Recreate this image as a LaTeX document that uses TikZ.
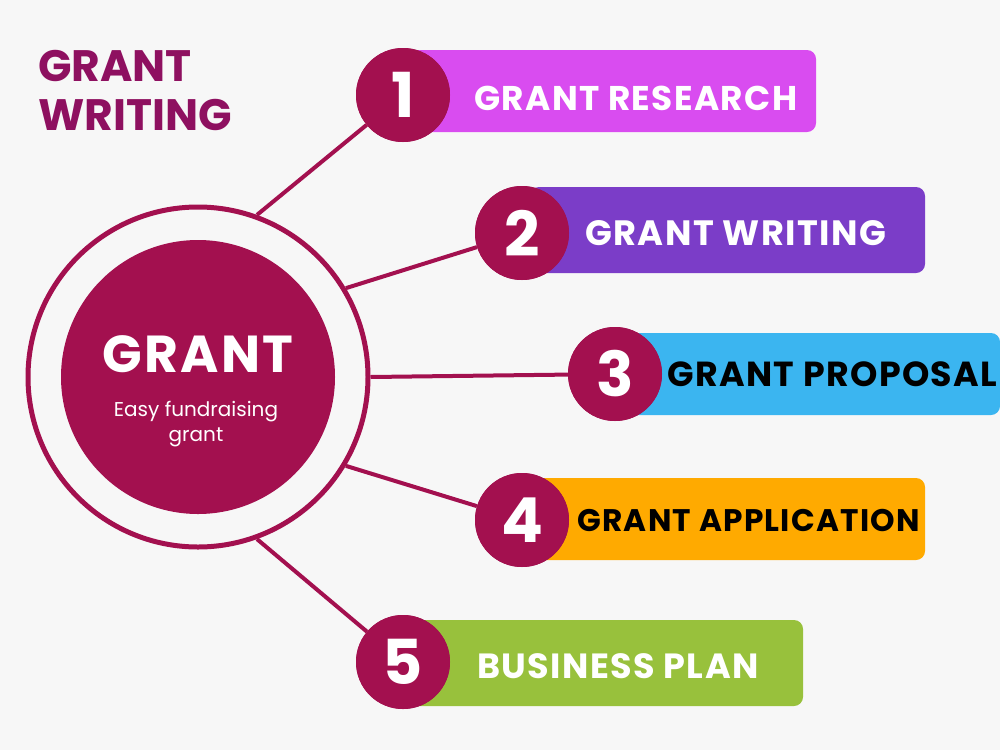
\documentclass[tikz,border=0pt]{standalone}
\usepackage{fontspec}
\setmainfont{Poppins}
\definecolor{bg}{HTML}{F7F7F7}
\definecolor{wine}{HTML}{A3104F}
\definecolor{title}{HTML}{8E1060}
\definecolor{c1}{HTML}{D94CF0}
\definecolor{c2}{HTML}{7B3DC8}
\definecolor{c3}{HTML}{3BB5F0}
\definecolor{c4}{HTML}{FFAA00}
\definecolor{c5}{HTML}{98C13C}
\newfontfamily\wide[LetterSpace=4]{Poppins}
\tikzset{
 bar/.style={rounded corners=9pt, inner sep=0pt},
 num/.style={circle, fill=wine, minimum size=94pt, inner sep=0pt, text=white, font=\fontsize{62}{62}\selectfont\bfseries},
 lab/.style={anchor=west, inner sep=0pt},
 conn/.style={wine, line width=4pt}
}
\newcommand\labfont[1]{\wide\fontsize{#1}{#1}\selectfont\bfseries}
\begin{document}
\begin{tikzpicture}[x=1pt,y=-1pt]
\fill[bg] (0,0) rectangle (1000,750);
\node[anchor=north west, align=left, text=title, inner sep=0pt, font=\fontsize{44}{49}\selectfont\bfseries] (t) at (38,50) {GRANT\\WRITING};
% bars
\fill[c1, bar] (410,50) rectangle (816,132);
\fill[c2, bar] (530,187) rectangle (925,273);
\fill[c3, bar] (620,333) rectangle (1000,415);
\fill[c4, bar] (530,478) rectangle (925,560);
\fill[c5, bar] (380,620) rectangle (803,706);
% ring
\node[circle, draw=wine, line width=5pt, minimum size=340pt, inner sep=0pt] (ring) at (198,377) {};
\node[circle, fill=wine, minimum size=274pt, inner sep=0pt] (core) at (198,377) {};
\node[text=white, font=\wide\fontsize{52}{52}\selectfont\bfseries] (g) at (198,354) {GRANT};
\node[text=white, align=center, font=\fontsize{20}{25}\selectfont] (e) at (196,424) {Easy fundraising\\grant};
% numbers
\node[num] (n1) at (403,95) {1};
\node[num] (n2) at (522,233) {2};
\node[num] (n3) at (615,374) {3};
\node[num] (n4) at (522,520) {4};
\node[num] (n5) at (403,662) {5};
% connectors
\draw[conn] (ring.70) -- (n1);
\draw[conn] (ring.31) -- (n2);
\draw[conn] (ring.0) -- (n3);
\draw[conn] (ring.-31) -- (n4);
\draw[conn] (ring.-70) -- (n5);
\foreach \i in {1,...,5} {\node[num] at (n\i) {\i};}
% labels
\node[lab, text=white, font=\labfont{34.3}] (l1) at (474,98) {GRANT RESEARCH};
\node[lab, text=white, font=\labfont{35.2}] (l2) at (585,233) {GRANT WRITING};
\node[lab, text=black, font=\labfont{34.8}] (l3) at (667,374) {GRANT PROPOSAL};
\node[lab, text=black, font=\labfont{31.2}] (l4) at (577,520) {GRANT APPLICATION};
\node[lab, text=white, font=\labfont{35}] (l5) at (477,666) {BUSINESS PLAN};
\end{tikzpicture}
\end{document}
